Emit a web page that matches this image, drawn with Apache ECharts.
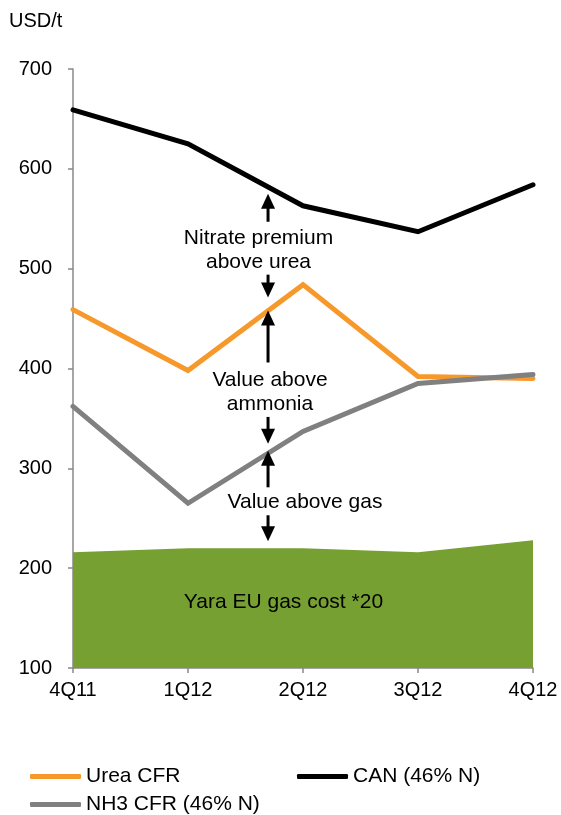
<!DOCTYPE html>
<html><head><meta charset="utf-8">
<script src="https://cdn.jsdelivr.net/npm/echarts@6/dist/echarts.min.js"></script>
<style>html,body{margin:0;padding:0;background:#fff}#c{width:561px;height:815px}</style>
</head><body><div id="c"></div>
<script>
// ---- data ----
const categories = ['4Q11', '1Q12', '2Q12', '3Q12', '4Q12'];
const canValues  = [659, 625, 563, 537, 584];
const ureaValues = [459, 398, 484, 392, 390];
const nh3Values  = [362, 265, 337, 385, 394];
const gasValues  = [216, 220, 220, 216, 228];
const seriesNames = ['Urea CFR', 'CAN (46% N)', 'NH3 CFR (46% N)', 'Yara EU gas cost *20'];
const yUnit = 'USD/t';
const annotationTexts = ['Nitrate premium', 'above urea', 'Value above', 'ammonia', 'Value above gas', 'Yara EU gas cost *20'];

// ---- layout of annotations (category position, value level) ----
const textLayout = [
  [1.613, 531], [1.613, 506], [1.713, 388], [1.713, 364], [2.017, 266], [1.83, 166]
];
const arrowLayout = [ // [category pos, from value, to value (tip)]
  [1.696, 547, 575], [1.696, 494, 471], [1.696, 406, 458],
  [1.696, 351.5, 324.5], [1.696, 281, 317.5], [1.696, 253, 227]
];

const FONT = "'Liberation Sans', Arial, sans-serif";
const chart = echarts.init(document.getElementById('c'), null, {renderer: 'canvas'});
const axisColor = '#898989';

function legendCfg(name, left, top) {
  return {
    data: [name], left: left, top: top, orient: 'horizontal', padding: 0,
    itemWidth: 51, itemHeight: 5, icon: 'roundRect',
    textStyle: {fontSize: 21, color: '#000', fontFamily: FONT},
    selectedMode: false
  };
}

chart.setOption({
  animation: false,
  backgroundColor: '#fff',
  title: {text: yUnit, left: 9, top: 11, padding: 0, textStyle: {fontSize: 20, fontWeight: 'normal', color: '#000', fontFamily: FONT}},
  grid: {left: 73, right: 28, top: 69, bottom: 147, containLabel: false},
  legend: [
    legendCfg(seriesNames[0], 30, 766),
    legendCfg(seriesNames[1], 297, 766),
    legendCfg(seriesNames[2], 30, 794)
  ],
  xAxis: {
    type: 'category', data: categories, boundaryGap: false,
    axisLine: {lineStyle: {color: axisColor, width: 1.5}},
    axisTick: {show: true, inside: false, length: 5, alignWithLabel: true, lineStyle: {color: axisColor, width: 1.5}},
    axisLabel: {fontSize: 20, color: '#000', fontFamily: FONT, margin: 12},
    splitLine: {show: false}
  },
  yAxis: {
    type: 'value', min: 100, max: 700, interval: 100,
    axisLine: {show: true, lineStyle: {color: axisColor, width: 1.5}},
    axisTick: {show: true, inside: false, length: 5, lineStyle: {color: axisColor, width: 1.5}},
    axisLabel: {fontSize: 20, color: '#000', fontFamily: FONT, margin: 21},
    splitLine: {show: false}
  },
  series: [
    {name: seriesNames[3], type: 'line', data: gasValues, showSymbol: false, symbol: 'none',
     lineStyle: {width: 0, color: '#77A033'}, itemStyle: {color: '#77A033'},
     areaStyle: {color: '#77A033', opacity: 1}, z: 1},
    {name: seriesNames[1], type: 'line', data: canValues, symbol: 'none',
     lineStyle: {width: 5, color: '#000', join: 'miter', cap: 'round'}, itemStyle: {color: '#000'}, z: 3},
    {name: seriesNames[0], type: 'line', data: ureaValues, symbol: 'none',
     lineStyle: {width: 5, color: '#F7982B', join: 'miter', cap: 'round'}, itemStyle: {color: '#F7982B'}, z: 3},
    {name: seriesNames[2], type: 'line', data: nh3Values, symbol: 'none',
     lineStyle: {width: 5, color: '#808080', join: 'miter', cap: 'round'}, itemStyle: {color: '#808080'}, z: 4}
  ]
});

function toPx(cat, val) {
  const i0 = Math.floor(cat), i1 = Math.min(i0 + 1, categories.length - 1);
  const p0 = chart.convertToPixel({gridIndex: 0}, [i0, val]);
  const p1 = chart.convertToPixel({gridIndex: 0}, [i1, val]);
  const f = cat - i0;
  return [p0[0] + (p1[0] - p0[0]) * f, p0[1]];
}

const graphics = [];
annotationTexts.forEach((t, i) => {
  const p = toPx(textLayout[i][0], textLayout[i][1]);
  graphics.push({type: 'text', x: p[0], y: p[1], z: 10,
    style: {text: t, fontSize: 21, fontFamily: FONT, fill: '#000', align: 'center', verticalAlign: 'middle'}});
});
arrowLayout.forEach(a => {
  const from = toPx(a[0], a[1]), tip = toPx(a[0], a[2]);
  const dir = tip[1] < from[1] ? -1 : 1; // -1 up
  const headH = 15, headW = 14;
  const baseY = tip[1] - dir * headH;
  graphics.push({type: 'line', z: 10, shape: {x1: from[0], y1: from[1], x2: tip[0], y2: baseY + dir * 1},
    style: {stroke: '#000', lineWidth: 3}});
  graphics.push({type: 'polygon', z: 10, shape: {points: [[tip[0], tip[1]], [tip[0] - headW / 2, baseY], [tip[0] + headW / 2, baseY]]},
    style: {fill: '#000'}});
});
chart.setOption({graphic: graphics});
</script>
</body></html>
